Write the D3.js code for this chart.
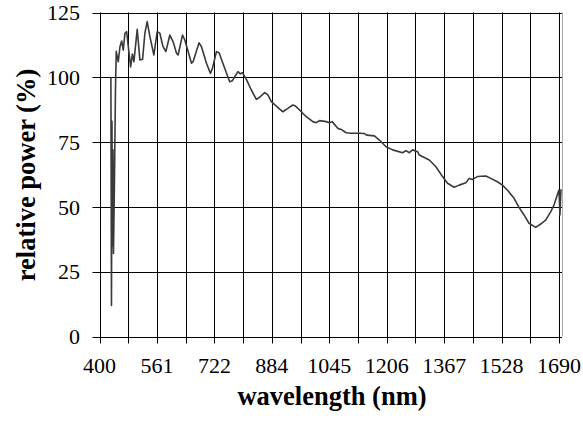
<!DOCTYPE html>
<html>
<head>
<meta charset="utf-8">
<script src="https://cdn.jsdelivr.net/npm/d3@7"></script>
<style>
  body { margin: 0; background: #fff; }
</style>
</head>
<body>
<svg id="chart" width="583" height="423"></svg>
<script>
// wavelength (nm) / relative power (%)
const wavelength = [432, 433.6, 435, 436.4, 437.8, 439.2, 442, 444.8, 447,
  452.7, 457.4, 462.2, 466.7, 471.4, 476.2, 480.7, 487.4, 492.4, 496.6, 505.9,
  513.4, 521, 527.4, 533.9, 541.5, 552.7, 561.9, 569.5, 577.9, 586.3,
  597.5, 606.7, 616.2, 620.7, 633, 639.5, 658.3, 662.7, 679.5, 686.3, 700.3,
  711.5, 717.1, 728.3, 735.6, 751.5, 765.5, 773.1, 779.5, 788.8, 795.5, 801.1,
  812.3, 826.3, 840.3, 849.6, 863.6, 872.8, 882.3, 896.3, 914.8, 928.8,
  942.8, 950.4, 961.6, 980.4, 998.9, 1008.4, 1017.6, 1036.4, 1045.6, 1053.2,
  1068.9, 1078.4, 1092.4, 1106.4, 1129.7, 1143.7, 1150.1, 1171.7, 1185.7,
  1204.4, 1222.9, 1251, 1260.5, 1269.7, 1279, 1293,
  1297.7, 1325.8, 1344.5, 1363, 1377, 1395.8, 1409.8, 1428.5, 1437.8, 1447,
  1461, 1484.5, 1498.5, 1517, 1531, 1545, 1563.8, 1577.8, 1591.8, 1605.8,
  1624.6, 1638.6, 1652.6, 1666.6, 1675.9, 1685.1, 1689.9, 1692.7, 1695.5]
const power = [100, 12, 83, 35, 72, 32, 60, 95, 110,
  106, 111.8, 114, 110.5, 117, 117.6, 112, 104, 109, 106, 118.5,
  106.7, 107, 117, 121.5, 115.7, 108.6, 117.6, 117, 112, 109.9,
  116.3, 113.7, 109.3, 108.6, 116.3, 114.4, 105.4, 106, 113.3, 111.8, 105.4,
  101.5, 103.5, 109.9, 109.5, 103.5, 98.3, 98.7, 100.2, 102.2, 101.3, 101.8,
  99.2, 95.1, 91.5, 92.3, 94.1, 93.2, 90.6, 88.9, 86.7, 88,
  89.3, 88.9, 87.4, 84.8, 82.9, 82.5, 83.3, 82.9, 82.5, 82.9,
  80.3, 79.9, 78.6, 78.4, 78.4, 78.3, 77.7, 77.4, 75.8,
  73.2, 72, 70.9, 71.7, 70.9, 72, 71.3,
  70, 68.1, 65.5, 61.7, 59.1, 57.6, 58.4, 59.3, 61, 60.6,
  61.7, 61.9, 61, 59.7, 58.4, 56.5, 53.3, 49.8, 46.9, 43.7,
  42.1, 43.4, 44.9, 48.1, 50.7, 54.6, 56.5, 46.9, 56.8]

const xTicks = [400, 561, 722, 884, 1045, 1206, 1367, 1528, 1690]
const yTicks = [0, 25, 50, 75, 100, 125]

const font = '"Liberation Serif", "Times New Roman", serif'
const svg = d3.select('#chart')
const m = { left: 99.5, right: 559, top: 12.5, bottom: 336.5 }

const x = d3.scaleLinear().domain([400, 1690]).range([m.left, m.right])
const y = d3.scaleLinear().domain([0, 125]).range([m.bottom, m.top])

// vertical grid every half label step
const xGrid = d3.range(0, 17).map(i => 400 + i * (1290 / 16))

svg.append('g')
  .selectAll('line')
  .data(xGrid)
  .enter()
  .append('line')
  .attr('x1', d => Math.round(x(d)) + 0.5)
  .attr('x2', d => Math.round(x(d)) + 0.5)
  .attr('y1', m.top)
  .attr('y2', m.bottom + 7)
  .attr('stroke', '#000')
  .attr('stroke-width', 1)

svg.append('g')
  .selectAll('line')
  .data(yTicks)
  .enter()
  .append('line')
  .attr('x1', m.left - 7)
  .attr('x2', m.right + 3)
  .attr('y1', d => Math.round(y(d)) + 0.5)
  .attr('y2', d => Math.round(y(d)) + 0.5)
  .attr('stroke', '#000')
  .attr('stroke-width', 1)

// right frame edge
svg.append('line')
  .attr('x1', m.right + 3.5).attr('x2', m.right + 3.5)
  .attr('y1', m.top).attr('y2', m.bottom)
  .attr('stroke', '#aaa')

// y tick labels
svg.append('g')
  .selectAll('text')
  .data(yTicks)
  .enter()
  .append('text')
  .attr('x', 80)
  .attr('y', d => y(d))
  .attr('dy', '0.35em')
  .attr('text-anchor', 'end')
  .attr('font-family', font)
  .attr('font-size', 22)
  .text(d => d)

// x tick labels
svg.append('g')
  .selectAll('text')
  .data(xTicks)
  .enter()
  .append('text')
  .attr('x', (d, i) => x(400 + i * 1290 / 8))
  .attr('y', 373)
  .attr('text-anchor', 'middle')
  .attr('font-family', font)
  .attr('font-size', 22)
  .text(d => d)

svg.append('text')
  .attr('x', 332)
  .attr('y', 405)
  .attr('text-anchor', 'middle')
  .attr('font-family', font)
  .attr('font-size', 26.5)
  .attr('font-weight', 'bold')
  .text('wavelength (nm)')

svg.append('text')
  .attr('transform', 'translate(35, 175) rotate(-90)')
  .attr('text-anchor', 'middle')
  .attr('font-family', font)
  .attr('font-size', 26.5)
  .attr('font-weight', 'bold')
  .text('relative power (%)')

const line = d3.line()
  .x((d, i) => x(wavelength[i]))
  .y(d => y(d))

svg.append('path')
  .datum(power)
  .attr('d', line)
  .attr('fill', 'none')
  .attr('stroke', '#3a3a3a')
  .attr('stroke-width', 1.6)
  .attr('stroke-linejoin', 'round')
</script>
</body>
</html>
